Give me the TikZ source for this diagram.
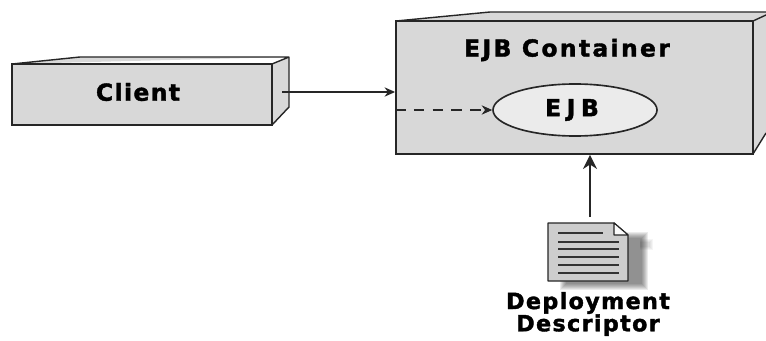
\documentclass[tikz,border=0pt]{standalone}
\usepackage{fontspec}
\usetikzlibrary{arrows.meta,shapes.geometric}
\newfontfamily\labelfont[LetterSpace=6,FakeBold=1.6]{DejaVu Sans Bold}
\definecolor{boxgray}{HTML}{D8D8D8}
\definecolor{ovalgray}{HTML}{EBEBEB}
\tikzset{
	frontbox/.style={draw=black!85, line width=1.6pt, fill=boxgray, inner sep=0pt},
	sidebox/.style={draw=black!85, line width=1.2pt, fill=boxgray, line join=round},
	caption/.style={font=\labelfont\fontsize{20}{21}\selectfont, text=black, inner sep=0pt},
	flow/.style={draw=black!85, line width=0.9pt, -{Stealth[length=9pt,width=8pt]}},
}
\begin{document}
\begin{tikzpicture}[x=0.03cm,y=-0.03cm]
	\useasboundingbox (0,0) rectangle (766,340);
	\fill[boxgray] (396,21) -- (490,12) -- (766,12) -- (766,133) -- (753,154) -- cycle;
	\draw[black!85, line width=1.2pt] (396,21) -- (490,12) -- (766,12);
	\draw[black!85, line width=1.2pt] (753,21) -- (766,15);
	\draw[black!85, line width=1.2pt] (753,154) -- (766,133);
	\draw[sidebox] (12,64) -- (80,57) -- (289,57) -- (289,107) -- (272,125) -- (272,64) -- (289,57);
	\node[frontbox, minimum width=10.71cm, minimum height=3.99cm] (container) at (574.5,87.5) {};
	\node[frontbox, minimum width=7.8cm, minimum height=1.83cm] (client) at (142,94.5) {};
	\node[draw=black!85, line width=1.4pt, fill=ovalgray, ellipse, minimum width=4.92cm, minimum height=1.56cm, inner sep=0pt] (ejb) at (575,110) {};
	\node[caption, font=\labelfont\addfontfeature{LetterSpace=10}\fontsize{20}{21}\selectfont] (containerlabel) at (567,50) {EJB Container};
	\node[caption] (clientlabel) at (138,92) {Client};
	\node[caption, font=\labelfont\addfontfeature{LetterSpace=24}\fontsize{20}{21}\selectfont] (ejblabel) at (572,110) {EJB};
	\foreach \s in {6,...,0}
		\fill[black, opacity=0.08] (566-\s,238-\s) rectangle (642+\s,284+\s);
	\foreach \s in {3,...,0}
		\fill[black, opacity=0.04] (640,242-\s) rectangle (650+\s,247+\s);
	\draw[line width=1.2pt, draw=black!85, fill=boxgray!95!black, line join=round] (548,223) -- (614,223) -- (628,235) -- (628,281) -- (548,281) -- cycle;
	\draw[line width=0.9pt, draw=black!85, fill=white!90!boxgray, line join=round] (614,223) -- (614,235) -- (628,235) -- cycle;
	\draw[line width=1pt, black!80] (558,233) -- (603,233);
	\foreach \y in {242,249,257,265,273}
		\draw[line width=1pt, black!80] (558,\y) -- (619,\y);
	\node[caption, font=\labelfont\fontsize{19}{20}\selectfont, align=center] (descriptorlabel) at (588,314) {Deployment\\[-1pt]Descriptor};
	\coordinate (clientport) at (282,92);
	\coordinate (docport) at (590,217);
	\draw[flow] (clientport) -- (container.west |- clientport);
	\draw[flow, dash pattern=on 9pt off 7pt] (container.west |- ejb) -- (ejb);
	\draw[flow, line width=2.2pt, -{Stealth[length=12pt,width=12pt]}] (docport) -- (container.south -| docport);
\end{tikzpicture}
\end{document}
